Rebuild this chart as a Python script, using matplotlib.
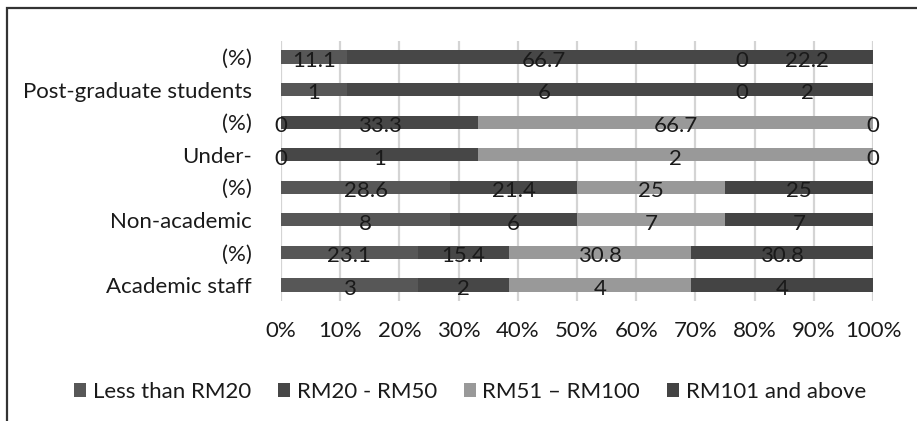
import matplotlib
matplotlib.use("Agg")
import matplotlib.pyplot as plt
from matplotlib.patches import Rectangle
import numpy as np

plt.rcParams['font.family'] = ['Lato', 'DejaVu Sans']

categories = ["Academic staff", "(%)", "Non-academic", "(%)",
              "Under-", "(%)", "Post-graduate students", "(%)"]
series_names = ["Less than RM20", "RM20 - RM50", "RM51 \u2013 RM100", "RM101 and above"]
less_than_rm20 = [3, 23.1, 8, 28.6, 0, 0, 1, 11.1]
rm20_rm50 = [2, 15.4, 6, 21.4, 1, 33.3, 6, 66.7]
rm51_rm100 = [4, 30.8, 7, 25, 2, 66.7, 0, 0]
rm101_above = [4, 30.8, 7, 25, 0, 0, 2, 22.2]
value_labels = [
    ["3", "23.1", "8", "28.6", "0", "0", "1", "11.1"],
    ["2", "15.4", "6", "21.4", "1", "33.3", "6", "66.7"],
    ["4", "30.8", "7", "25", "2", "66.7", "0", "0"],
    ["4", "30.8", "7", "25", "0", "0", "2", "22.2"],
]
xtick_labels = ["0%", "10%", "20%", "30%", "40%", "50%", "60%", "70%", "80%", "90%", "100%"]
colors = ["#575757", "#474747", "#999999", "#444444"]

series = np.array([less_than_rm20, rm20_rm50, rm51_rm100, rm101_above], dtype=float)
shares = series / series.sum(axis=0)

fig = plt.figure(figsize=(9.17, 4.21), dpi=100)
ax = fig.add_axes([281/917, 1 - 301.3/421, (873 - 281)/917, (301.3 - 40.7)/421])

y = np.arange(len(categories))
left = np.zeros(len(categories))
handles = []
for i, name in enumerate(series_names):
    h = ax.barh(y, shares[i], left=left, height=0.4, color=colors[i],
                label=name, zorder=3)
    handles.append(h)
    for j in range(len(categories)):
        cx = left[j] + shares[i][j] / 2
        ax.text(cx, y[j] - 0.12, value_labels[i][j], ha='center', va='center',
                fontsize=16, color='#1a1a1a', zorder=4)
    left += shares[i]

ax.set_xlim(0, 1)
ax.set_ylim(-0.5, 7.5)
ax.set_xticks(np.linspace(0, 1, 11))
ax.set_xticklabels(xtick_labels)
ax.set_yticks(y)
ax.set_yticklabels(categories)
ax.tick_params(axis='both', length=0, labelsize=16, colors='#1a1a1a')
ax.tick_params(axis='y', pad=21)
ax.tick_params(axis='x', pad=14)
ax.grid(axis='x', color='#d4d4d4', linewidth=1.6, zorder=0)
for s in ax.spines.values():
    s.set_visible(False)

fig.legend(handles=handles, labels=series_names, loc='center',
           bbox_to_anchor=(470/917, 1 - 392/421), ncol=4, frameon=False,
           fontsize=16, handlelength=0.55, handleheight=0.55, handletextpad=0.3,
           columnspacing=1.2, labelcolor='#1a1a1a')

fig.patches.append(Rectangle((7/917, -0.1), 1.2, 1 - 8/421 + 0.1,
                             transform=fig.transFigure, fill=False,
                             edgecolor='#333333', linewidth=1.6))

fig.savefig("out.png", dpi=100)
